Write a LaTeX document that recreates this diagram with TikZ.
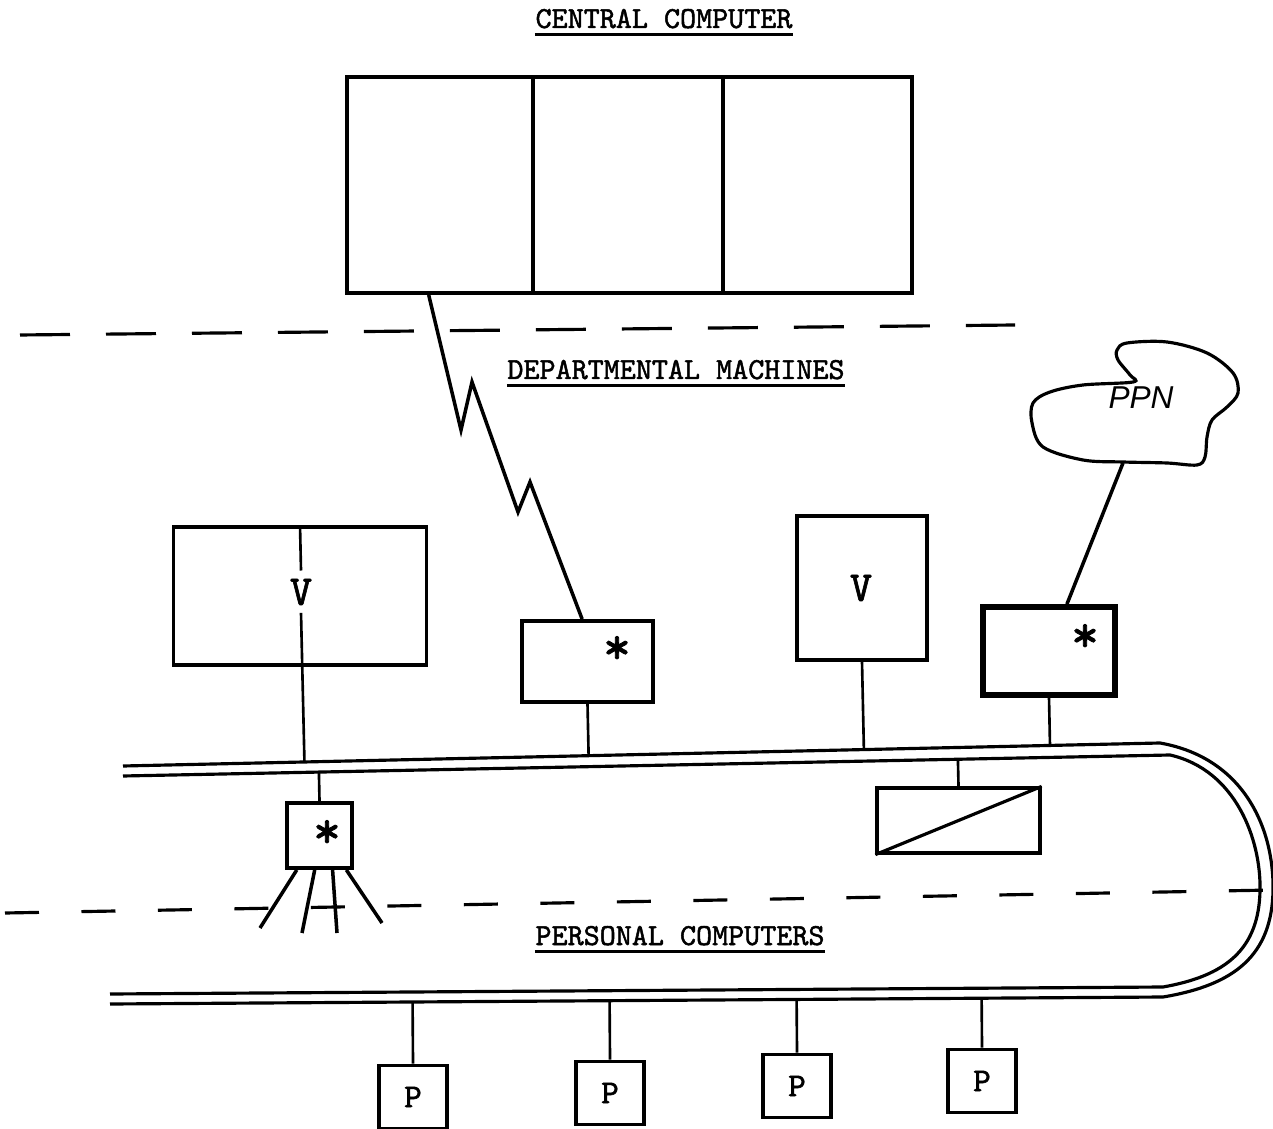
\documentclass[tikz,border=0pt]{standalone}
\usepackage{fontspec}
\setsansfont{Liberation Sans}
\newfontfamily\typefont[FakeBold=1.6]{lmmono10-regular.otf}
\usetikzlibrary{calc}

\begin{document}
\begin{tikzpicture}[
  x=0.1mm,y=-0.1mm,
  every node/.style={inner sep=0pt,align=center},
  title/.style={font=\typefont\fontsize{8.7}{10}\selectfont,anchor=base},
  box/.style={draw,line width=1.1pt},
  wire/.style={line width=0.75pt},
  bus/.style={line width=0.9pt},
  tier/.style={line width=0.9pt,dash pattern=on 5mm off 3.6mm},
  glyph/.style={font=\typefont\fontsize{15}{15}\selectfont},
  letter/.style={font=\typefont\fontsize{12}{12}\selectfont},
  pbox/.style={box,minimum width=6.8mm,minimum height=6.3mm,font=\typefont\fontsize{9.5}{10}\selectfont}
]
\useasboundingbox (0,0) rectangle (1273,1129);

% titles
\node[title] (cctitle) at (664,28) {CENTRAL COMPUTER};
\node[title] (dmtitle) at (676,379) {DEPARTMENTAL MACHINES};
\node[title] (pctitle) at (680,945) {PERSONAL COMPUTERS};
\foreach \t in {cctitle,dmtitle,pctitle}
  \draw[line width=1pt] ([yshift=-1.8pt]\t.base west) -- ([yshift=-1.8pt]\t.base east);

% central computer
\node[box,minimum width=56.5mm,minimum height=21.6mm] (cc) at (629.5,185) {};
\draw[box] ($(cc.north west)!0.33!(cc.north east)$) -- ($(cc.south west)!0.33!(cc.south east)$);
\draw[box] ($(cc.north west)!0.665!(cc.north east)$) -- ($(cc.south west)!0.665!(cc.south east)$);

% tier lines
\draw[tier] (20,335) -- (1015,325);
\draw[tier,dash pattern=on 3.4mm off 4.25mm] (5,913) -- (1273,890);

% buses
\coordinate (busA) at (123,766);
\coordinate (busB) at (1160,743);
\coordinate (busC) at (123,776);
\coordinate (busD) at (1170,755);
\coordinate (botA) at (110,994);
\coordinate (botB) at (1163,987);
\coordinate (botC) at (110,1004);
\coordinate (botD) at (1163,997);
\draw[bus] (busA) -- (busB) .. controls (1245,758) and (1274,830) .. (1273,890)
  .. controls (1272,955) and (1235,985) .. (botD) -- (botC);
\draw[bus] (busC) -- (busD) .. controls (1236,770) and (1261,840) .. (1260,890)
  .. controls (1259,950) and (1225,976) .. (botB) -- (botA);

% departmental machines
\node[box,minimum width=25.3mm,minimum height=13.8mm] (lv) at (300,596) {};
\node[letter] (lvlabel) at (301,592) {V};
\draw[wire] (lv.north) -- ([yshift=2.2pt]lvlabel.north);
\draw[wire] ([yshift=-2pt]lvlabel.south) -- ($(busA)!(lvlabel.south)!(busB)$);

\node[box,minimum width=13.1mm,minimum height=8.1mm] (mb) at (587.5,661.5) {};
\node[glyph] at (617,650) {*};
\draw[wire] (mb.south) -- ($(busA)!(mb.south)!(busB)$);
\coordinate (ccfoot) at ($(cc.south west)!0.147!(cc.south east)$);
\draw[wire,line width=1pt] (ccfoot) -- (461,430) -- (472,382) -- (518,512) -- (530,482)
  -- ($(mb.north west)!0.46!(mb.north east)$);

\node[box,minimum width=13mm,minimum height=14.4mm] (rv) at (862,588) {};
\node[letter] at (861,588) {V};
\draw[wire] (rv.south) -- ($(busA)!(rv.south)!(busB)$);

\node[box,line width=1.6pt,minimum width=13.2mm,minimum height=8.8mm] (rb) at (1049,651) {};
\node[glyph] at (1085,638) {*};
\draw[wire] (rb.south) -- ($(busA)!(rb.south)!(busB)$);

\draw[line width=0.9pt] plot[smooth cycle,tension=0.55] coordinates {
  (1117,350) (1127,343) (1167,342) (1207,353) (1233,373) (1238,393) (1227,407)
  (1212,420) (1207,437) (1205,457) (1197,465) (1167,463) (1123,462) (1083,460)
  (1043,447) (1032,423) (1033,403) (1050,392) (1083,385) (1133,382) (1130,375)
  (1118,360)};
\node[font=\sffamily\itshape\fontsize{9}{9}\selectfont] (ppn) at (1141,398) {PPN};
\coordinate (ppnfoot) at (1123,463);
\draw[wire,line width=1pt] (ppnfoot) -- ($(rb.north west)!0.63!(rb.north east)$);

% bridge and hub
\node[box,line width=0.9pt,minimum width=16.3mm,minimum height=6.5mm] (md) at (958.5,820.5) {};
\draw[line width=0.9pt] (md.south west) -- (md.north east);
\draw[wire] (md.north) -- ($(busC)!(md.north)!(busD)$);

\node[box,minimum width=6.5mm,minimum height=6.5mm] (hb) at (319.5,835.5) {};
\node[glyph] at (327,834) {*};
\draw[wire] (hb.north) -- ($(busC)!(hb.north)!(busD)$);
\coordinate (leg1) at (260,928);
\coordinate (leg2) at (302,933);
\coordinate (leg3) at (337,933);
\coordinate (leg4) at (382,923);
\foreach \f/\e in {0.17/leg1,0.43/leg2,0.69/leg3,0.89/leg4}
  \draw[wire,line width=1pt] ($(hb.south west)!\f!(hb.south east)$) -- (\e);

% personal computers
\foreach \n/\x/\y in {1/413/1097,2/610/1093,3/797/1086,4/982/1081}{
  \node[pbox] (p\n) at (\x,\y) {P};
  \draw[wire] (p\n.north) -- ($(botC)!(p\n.north)!(botD)$);
}
\end{tikzpicture}
\end{document}
